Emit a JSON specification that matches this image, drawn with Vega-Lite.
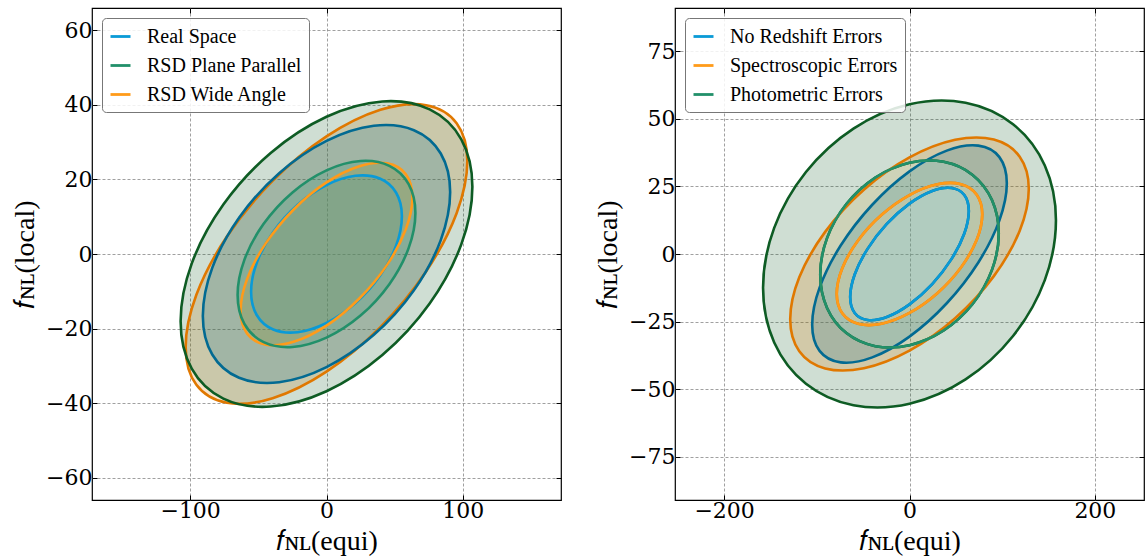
{
"$schema":"https://vega.github.io/schema/vega-lite/v6.json",
"padding":{"left":10,"top":6,"right":0,"bottom":0},
"spacing":30,
"config":{
"font":"Liberation Serif",
"view":{"stroke":"black","strokeWidth":1.2},
"axis":{"labelFont":"DejaVu Serif","labelFontSize":22,"labelColor":"black","titleFont":"Liberation Serif","titleFontSize":28,"titleFontWeight":"normal","titleColor":"black","domain":false,"tickColor":"black","tickSize":-5,"tickWidth":1,"grid":true,"gridColor":"#888","gridDash":[3,2],"gridWidth":0.8,"labelPadding":5,"titlePadding":6},
"legend":{"labelFont":"Liberation Serif","labelFontSize":20,"labelColor":"black","labelLimit":400,"symbolStrokeWidth":2.8,"symbolSize":400,"padding":7,"rowPadding":7,"cornerRadius":4,"strokeColor":"#777","fillColor":"rgba(255,255,255,0.85)","orient":"top-left","offset":10,"labelOffset":15}
},
"datasets":{
"left":[
{"c":"RSD Wide Angle 2σ","i":0,"equi":103.3,"local":24.92},{"c":"RSD Wide Angle 2σ","i":1,"equi":95.44,"local":35.1},{"c":"RSD Wide Angle 2σ","i":2,"equi":73.04,"local":39.93},{"c":"RSD Wide Angle 2σ","i":3,"equi":39.53,"local":38.68},{"c":"RSD Wide Angle 2σ","i":4,"equi":0,"local":31.54},{"c":"RSD Wide Angle 2σ","i":5,"equi":-39.53,"local":19.6},{"c":"RSD Wide Angle 2σ","i":6,"equi":-73.04,"local":4.68},{"c":"RSD Wide Angle 2σ","i":7,"equi":-95.44,"local":-10.95},
{"c":"RSD Wide Angle 2σ","i":8,"equi":-103.3,"local":-24.92},{"c":"RSD Wide Angle 2σ","i":9,"equi":-95.44,"local":-35.1},{"c":"RSD Wide Angle 2σ","i":10,"equi":-73.04,"local":-39.93},{"c":"RSD Wide Angle 2σ","i":11,"equi":-39.53,"local":-38.68},{"c":"RSD Wide Angle 2σ","i":12,"equi":0,"local":-31.54},{"c":"RSD Wide Angle 2σ","i":13,"equi":39.53,"local":-19.6},{"c":"RSD Wide Angle 2σ","i":14,"equi":73.04,"local":-4.68},{"c":"RSD Wide Angle 2σ","i":15,"equi":95.44,"local":10.95},
{"c":"RSD Plane Parallel 2σ","i":0,"equi":107,"local":18.04},{"c":"RSD Plane Parallel 2σ","i":1,"equi":98.86,"local":30.76},{"c":"RSD Plane Parallel 2σ","i":2,"equi":75.66,"local":38.79},{"c":"RSD Plane Parallel 2σ","i":3,"equi":40.95,"local":40.92},{"c":"RSD Plane Parallel 2σ","i":4,"equi":0,"local":36.82},{"c":"RSD Plane Parallel 2σ","i":5,"equi":-40.95,"local":27.11},{"c":"RSD Plane Parallel 2σ","i":6,"equi":-75.66,"local":13.28},{"c":"RSD Plane Parallel 2σ","i":7,"equi":-98.86,"local":-2.57},
{"c":"RSD Plane Parallel 2σ","i":8,"equi":-107,"local":-18.04},{"c":"RSD Plane Parallel 2σ","i":9,"equi":-98.86,"local":-30.76},{"c":"RSD Plane Parallel 2σ","i":10,"equi":-75.66,"local":-38.79},{"c":"RSD Plane Parallel 2σ","i":11,"equi":-40.95,"local":-40.92},{"c":"RSD Plane Parallel 2σ","i":12,"equi":0,"local":-36.82},{"c":"RSD Plane Parallel 2σ","i":13,"equi":40.95,"local":-27.11},{"c":"RSD Plane Parallel 2σ","i":14,"equi":75.66,"local":-13.28},{"c":"RSD Plane Parallel 2σ","i":15,"equi":98.86,"local":2.57},
{"c":"Real Space 2σ","i":0,"equi":90.7,"local":16.61},{"c":"Real Space 2σ","i":1,"equi":83.8,"local":26.96},{"c":"Real Space 2σ","i":2,"equi":64.13,"local":33.21},{"c":"Real Space 2σ","i":3,"equi":34.71,"local":34.4},{"c":"Real Space 2σ","i":4,"equi":0,"local":30.35},{"c":"Real Space 2σ","i":5,"equi":-34.71,"local":21.69},{"c":"Real Space 2σ","i":6,"equi":-64.13,"local":9.72},{"c":"Real Space 2σ","i":7,"equi":-83.8,"local":-3.73},
{"c":"Real Space 2σ","i":8,"equi":-90.7,"local":-16.61},{"c":"Real Space 2σ","i":9,"equi":-83.8,"local":-26.96},{"c":"Real Space 2σ","i":10,"equi":-64.13,"local":-33.21},{"c":"Real Space 2σ","i":11,"equi":-34.71,"local":-34.4},{"c":"Real Space 2σ","i":12,"equi":0,"local":-30.35},{"c":"Real Space 2σ","i":13,"equi":34.71,"local":-21.69},{"c":"Real Space 2σ","i":14,"equi":64.13,"local":-9.72},{"c":"Real Space 2σ","i":15,"equi":83.8,"local":3.73},
{"c":"Real Space","i":0,"equi":55.3,"local":10.13},{"c":"Real Space","i":1,"equi":51.09,"local":16.44},{"c":"Real Space","i":2,"equi":39.1,"local":20.25},{"c":"Real Space","i":3,"equi":21.16,"local":20.98},{"c":"Real Space","i":4,"equi":0,"local":18.51},{"c":"Real Space","i":5,"equi":-21.16,"local":13.23},{"c":"Real Space","i":6,"equi":-39.1,"local":5.93},{"c":"Real Space","i":7,"equi":-51.09,"local":-2.27},
{"c":"Real Space","i":8,"equi":-55.3,"local":-10.13},{"c":"Real Space","i":9,"equi":-51.09,"local":-16.44},{"c":"Real Space","i":10,"equi":-39.1,"local":-20.25},{"c":"Real Space","i":11,"equi":-21.16,"local":-20.98},{"c":"Real Space","i":12,"equi":0,"local":-18.51},{"c":"Real Space","i":13,"equi":21.16,"local":-13.23},{"c":"Real Space","i":14,"equi":39.1,"local":-5.93},{"c":"Real Space","i":15,"equi":51.09,"local":2.27},
{"c":"RSD Wide Angle","i":0,"equi":63,"local":15.19},{"c":"RSD Wide Angle","i":1,"equi":58.21,"local":21.39},{"c":"RSD Wide Angle","i":2,"equi":44.55,"local":24.33},{"c":"RSD Wide Angle","i":3,"equi":24.11,"local":23.57},{"c":"RSD Wide Angle","i":4,"equi":0,"local":19.22},{"c":"RSD Wide Angle","i":5,"equi":-24.11,"local":11.95},{"c":"RSD Wide Angle","i":6,"equi":-44.55,"local":2.85},{"c":"RSD Wide Angle","i":7,"equi":-58.21,"local":-6.68},
{"c":"RSD Wide Angle","i":8,"equi":-63,"local":-15.19},{"c":"RSD Wide Angle","i":9,"equi":-58.21,"local":-21.39},{"c":"RSD Wide Angle","i":10,"equi":-44.55,"local":-24.33},{"c":"RSD Wide Angle","i":11,"equi":-24.11,"local":-23.57},{"c":"RSD Wide Angle","i":12,"equi":0,"local":-19.22},{"c":"RSD Wide Angle","i":13,"equi":24.11,"local":-11.95},{"c":"RSD Wide Angle","i":14,"equi":44.55,"local":-2.85},{"c":"RSD Wide Angle","i":15,"equi":58.21,"local":6.68},
{"c":"RSD Plane Parallel","i":0,"equi":65.2,"local":11},{"c":"RSD Plane Parallel","i":1,"equi":60.24,"local":18.76},{"c":"RSD Plane Parallel","i":2,"equi":46.1,"local":23.65},{"c":"RSD Plane Parallel","i":3,"equi":24.95,"local":24.95},{"c":"RSD Plane Parallel","i":4,"equi":0,"local":22.45},{"c":"RSD Plane Parallel","i":5,"equi":-24.95,"local":16.53},{"c":"RSD Plane Parallel","i":6,"equi":-46.1,"local":8.1},{"c":"RSD Plane Parallel","i":7,"equi":-60.24,"local":-1.57},
{"c":"RSD Plane Parallel","i":8,"equi":-65.2,"local":-11},{"c":"RSD Plane Parallel","i":9,"equi":-60.24,"local":-18.76},{"c":"RSD Plane Parallel","i":10,"equi":-46.1,"local":-23.65},{"c":"RSD Plane Parallel","i":11,"equi":-24.95,"local":-24.95},{"c":"RSD Plane Parallel","i":12,"equi":0,"local":-22.45},{"c":"RSD Plane Parallel","i":13,"equi":24.95,"local":-16.53},{"c":"RSD Plane Parallel","i":14,"equi":46.1,"local":-8.1},{"c":"RSD Plane Parallel","i":15,"equi":60.24,"local":1.57}
],
"right":[
{"c":"Photometric Errors 2σ","i":0,"equi":158,"local":12.5},{"c":"Photometric Errors 2σ","i":1,"equi":145.98,"local":32.75},{"c":"Photometric Errors 2σ","i":2,"equi":111.72,"local":48.01},{"c":"Photometric Errors 2σ","i":3,"equi":60.47,"local":55.97},{"c":"Photometric Errors 2σ","i":4,"equi":0,"local":55.41},{"c":"Photometric Errors 2σ","i":5,"equi":-60.47,"local":46.41},{"c":"Photometric Errors 2σ","i":6,"equi":-111.72,"local":30.34},{"c":"Photometric Errors 2σ","i":7,"equi":-145.98,"local":9.66},
{"c":"Photometric Errors 2σ","i":8,"equi":-158,"local":-12.5},{"c":"Photometric Errors 2σ","i":9,"equi":-145.98,"local":-32.75},{"c":"Photometric Errors 2σ","i":10,"equi":-111.72,"local":-48.01},{"c":"Photometric Errors 2σ","i":11,"equi":-60.47,"local":-55.97},{"c":"Photometric Errors 2σ","i":12,"equi":0,"local":-55.41},{"c":"Photometric Errors 2σ","i":13,"equi":60.47,"local":-46.41},{"c":"Photometric Errors 2σ","i":14,"equi":111.72,"local":-30.34},{"c":"Photometric Errors 2σ","i":15,"equi":145.98,"local":-9.66},
{"c":"Photometric Errors 2σ","i":16,"equi":null,"local":null},
{"c":"Photometric Errors 2σ","i":17,"equi":88.97,"local":-5.88},{"c":"Photometric Errors 2σ","i":18,"equi":68.09,"local":-18.48},{"c":"Photometric Errors 2σ","i":19,"equi":36.85,"local":-28.27},{"c":"Photometric Errors 2σ","i":20,"equi":0,"local":-33.75},{"c":"Photometric Errors 2σ","i":21,"equi":-36.85,"local":-34.09},{"c":"Photometric Errors 2σ","i":22,"equi":-68.09,"local":-29.25},{"c":"Photometric Errors 2σ","i":23,"equi":-88.97,"local":-19.95},{"c":"Photometric Errors 2σ","i":24,"equi":-96.3,"local":-7.61},
{"c":"Photometric Errors 2σ","i":25,"equi":-88.97,"local":5.88},{"c":"Photometric Errors 2σ","i":26,"equi":-68.09,"local":18.48},{"c":"Photometric Errors 2σ","i":27,"equi":-36.85,"local":28.27},{"c":"Photometric Errors 2σ","i":28,"equi":0,"local":33.75},{"c":"Photometric Errors 2σ","i":29,"equi":36.85,"local":34.09},{"c":"Photometric Errors 2σ","i":30,"equi":68.09,"local":29.25},{"c":"Photometric Errors 2σ","i":31,"equi":88.97,"local":19.95},{"c":"Photometric Errors 2σ","i":32,"equi":96.3,"local":7.61},
{"c":"Spectroscopic Errors 2σ","i":0,"equi":128.7,"local":24.14},{"c":"Spectroscopic Errors 2σ","i":1,"equi":118.91,"local":35.97},{"c":"Spectroscopic Errors 2σ","i":2,"equi":91,"local":42.32},{"c":"Spectroscopic Errors 2σ","i":3,"equi":49.25,"local":42.23},{"c":"Spectroscopic Errors 2σ","i":4,"equi":0,"local":35.71},{"c":"Spectroscopic Errors 2σ","i":5,"equi":-49.25,"local":23.76},{"c":"Spectroscopic Errors 2σ","i":6,"equi":-91,"local":8.18},{"c":"Spectroscopic Errors 2σ","i":7,"equi":-118.91,"local":-8.63},
{"c":"Spectroscopic Errors 2σ","i":8,"equi":-128.7,"local":-24.14},{"c":"Spectroscopic Errors 2σ","i":9,"equi":-118.91,"local":-35.97},{"c":"Spectroscopic Errors 2σ","i":10,"equi":-91,"local":-42.32},{"c":"Spectroscopic Errors 2σ","i":11,"equi":-49.25,"local":-42.23},{"c":"Spectroscopic Errors 2σ","i":12,"equi":0,"local":-35.71},{"c":"Spectroscopic Errors 2σ","i":13,"equi":49.25,"local":-23.76},{"c":"Spectroscopic Errors 2σ","i":14,"equi":91,"local":-8.18},{"c":"Spectroscopic Errors 2σ","i":15,"equi":118.91,"local":8.63},
{"c":"Spectroscopic Errors 2σ","i":16,"equi":null,"local":null},
{"c":"Spectroscopic Errors 2σ","i":17,"equi":72.53,"local":5.27},{"c":"Spectroscopic Errors 2σ","i":18,"equi":55.51,"local":-4.99},{"c":"Spectroscopic Errors 2σ","i":19,"equi":30.04,"local":-14.5},{"c":"Spectroscopic Errors 2σ","i":20,"equi":0,"local":-21.79},{"c":"Spectroscopic Errors 2σ","i":21,"equi":-30.04,"local":-25.77},{"c":"Spectroscopic Errors 2σ","i":22,"equi":-55.51,"local":-25.82},{"c":"Spectroscopic Errors 2σ","i":23,"equi":-72.53,"local":-21.95},{"c":"Spectroscopic Errors 2σ","i":24,"equi":-78.5,"local":-14.73},
{"c":"Spectroscopic Errors 2σ","i":25,"equi":-72.53,"local":-5.27},{"c":"Spectroscopic Errors 2σ","i":26,"equi":-55.51,"local":4.99},{"c":"Spectroscopic Errors 2σ","i":27,"equi":-30.04,"local":14.5},{"c":"Spectroscopic Errors 2σ","i":28,"equi":0,"local":21.79},{"c":"Spectroscopic Errors 2σ","i":29,"equi":30.04,"local":25.77},{"c":"Spectroscopic Errors 2σ","i":30,"equi":55.51,"local":25.82},{"c":"Spectroscopic Errors 2σ","i":31,"equi":72.53,"local":21.95},{"c":"Spectroscopic Errors 2σ","i":32,"equi":78.5,"local":14.73},
{"c":"No Redshift Errors 2σ","i":0,"equi":105,"local":26.13},{"c":"No Redshift Errors 2σ","i":1,"equi":97.01,"local":35.83},{"c":"No Redshift Errors 2σ","i":2,"equi":74.25,"local":40.08},{"c":"No Redshift Errors 2σ","i":3,"equi":40.18,"local":38.23},{"c":"No Redshift Errors 2σ","i":4,"equi":0,"local":30.55},{"c":"No Redshift Errors 2σ","i":5,"equi":-40.18,"local":18.22},{"c":"No Redshift Errors 2σ","i":6,"equi":-74.25,"local":3.12},{"c":"No Redshift Errors 2σ","i":7,"equi":-97.01,"local":-12.45},
{"c":"No Redshift Errors 2σ","i":8,"equi":-105,"local":-26.13},{"c":"No Redshift Errors 2σ","i":9,"equi":-97.01,"local":-35.83},{"c":"No Redshift Errors 2σ","i":10,"equi":-74.25,"local":-40.08},{"c":"No Redshift Errors 2σ","i":11,"equi":-40.18,"local":-38.23},{"c":"No Redshift Errors 2σ","i":12,"equi":0,"local":-30.55},{"c":"No Redshift Errors 2σ","i":13,"equi":40.18,"local":-18.22},{"c":"No Redshift Errors 2σ","i":14,"equi":74.25,"local":-3.12},{"c":"No Redshift Errors 2σ","i":15,"equi":97.01,"local":12.45},
{"c":"No Redshift Errors 2σ","i":16,"equi":null,"local":null},
{"c":"No Redshift Errors 2σ","i":17,"equi":59.13,"local":7.59},{"c":"No Redshift Errors 2σ","i":18,"equi":45.25,"local":-1.9},{"c":"No Redshift Errors 2σ","i":19,"equi":24.49,"local":-11.11},{"c":"No Redshift Errors 2σ","i":20,"equi":0,"local":-18.62},{"c":"No Redshift Errors 2σ","i":21,"equi":-24.49,"local":-23.3},{"c":"No Redshift Errors 2σ","i":22,"equi":-45.25,"local":-24.42},{"c":"No Redshift Errors 2σ","i":23,"equi":-59.13,"local":-21.84},{"c":"No Redshift Errors 2σ","i":24,"equi":-64,"local":-15.93},
{"c":"No Redshift Errors 2σ","i":25,"equi":-59.13,"local":-7.59},{"c":"No Redshift Errors 2σ","i":26,"equi":-45.25,"local":1.9},{"c":"No Redshift Errors 2σ","i":27,"equi":-24.49,"local":11.11},{"c":"No Redshift Errors 2σ","i":28,"equi":0,"local":18.62},{"c":"No Redshift Errors 2σ","i":29,"equi":24.49,"local":23.3},{"c":"No Redshift Errors 2σ","i":30,"equi":45.25,"local":24.42},{"c":"No Redshift Errors 2σ","i":31,"equi":59.13,"local":21.84},{"c":"No Redshift Errors 2σ","i":32,"equi":64,"local":15.93},
{"c":"Photometric Errors","i":0,"equi":96.3,"local":7.61},{"c":"Photometric Errors","i":1,"equi":88.97,"local":19.95},{"c":"Photometric Errors","i":2,"equi":68.09,"local":29.25},{"c":"Photometric Errors","i":3,"equi":36.85,"local":34.09},{"c":"Photometric Errors","i":4,"equi":0,"local":33.75},{"c":"Photometric Errors","i":5,"equi":-36.85,"local":28.27},{"c":"Photometric Errors","i":6,"equi":-68.09,"local":18.48},{"c":"Photometric Errors","i":7,"equi":-88.97,"local":5.88},
{"c":"Photometric Errors","i":8,"equi":-96.3,"local":-7.61},{"c":"Photometric Errors","i":9,"equi":-88.97,"local":-19.95},{"c":"Photometric Errors","i":10,"equi":-68.09,"local":-29.25},{"c":"Photometric Errors","i":11,"equi":-36.85,"local":-34.09},{"c":"Photometric Errors","i":12,"equi":0,"local":-33.75},{"c":"Photometric Errors","i":13,"equi":36.85,"local":-28.27},{"c":"Photometric Errors","i":14,"equi":68.09,"local":-18.48},{"c":"Photometric Errors","i":15,"equi":88.97,"local":-5.88},
{"c":"Spectroscopic Errors","i":0,"equi":78.5,"local":14.73},{"c":"Spectroscopic Errors","i":1,"equi":72.53,"local":21.95},{"c":"Spectroscopic Errors","i":2,"equi":55.51,"local":25.82},{"c":"Spectroscopic Errors","i":3,"equi":30.04,"local":25.77},{"c":"Spectroscopic Errors","i":4,"equi":0,"local":21.79},{"c":"Spectroscopic Errors","i":5,"equi":-30.04,"local":14.5},{"c":"Spectroscopic Errors","i":6,"equi":-55.51,"local":4.99},{"c":"Spectroscopic Errors","i":7,"equi":-72.53,"local":-5.27},
{"c":"Spectroscopic Errors","i":8,"equi":-78.5,"local":-14.73},{"c":"Spectroscopic Errors","i":9,"equi":-72.53,"local":-21.95},{"c":"Spectroscopic Errors","i":10,"equi":-55.51,"local":-25.82},{"c":"Spectroscopic Errors","i":11,"equi":-30.04,"local":-25.77},{"c":"Spectroscopic Errors","i":12,"equi":0,"local":-21.79},{"c":"Spectroscopic Errors","i":13,"equi":30.04,"local":-14.5},{"c":"Spectroscopic Errors","i":14,"equi":55.51,"local":-4.99},{"c":"Spectroscopic Errors","i":15,"equi":72.53,"local":5.27},
{"c":"No Redshift Errors","i":0,"equi":64,"local":15.93},{"c":"No Redshift Errors","i":1,"equi":59.13,"local":21.84},{"c":"No Redshift Errors","i":2,"equi":45.25,"local":24.42},{"c":"No Redshift Errors","i":3,"equi":24.49,"local":23.3},{"c":"No Redshift Errors","i":4,"equi":0,"local":18.62},{"c":"No Redshift Errors","i":5,"equi":-24.49,"local":11.11},{"c":"No Redshift Errors","i":6,"equi":-45.25,"local":1.9},{"c":"No Redshift Errors","i":7,"equi":-59.13,"local":-7.59},
{"c":"No Redshift Errors","i":8,"equi":-64,"local":-15.93},{"c":"No Redshift Errors","i":9,"equi":-59.13,"local":-21.84},{"c":"No Redshift Errors","i":10,"equi":-45.25,"local":-24.42},{"c":"No Redshift Errors","i":11,"equi":-24.49,"local":-23.3},{"c":"No Redshift Errors","i":12,"equi":0,"local":-18.62},{"c":"No Redshift Errors","i":13,"equi":24.49,"local":-11.11},{"c":"No Redshift Errors","i":14,"equi":45.25,"local":-1.9},{"c":"No Redshift Errors","i":15,"equi":59.13,"local":7.59}
]
},
"hconcat":[
{"width":469,"height":492,"data":{"name":"left"},
"resolve":{"axis":{"x":"independent","y":"independent"}},
"layer":[
{"mark":{"type":"line","interpolate":"cardinal-closed","strokeWidth":0,"strokeOpacity":0,"fillOpacity":0.2},
"encoding":{
"x":{"field":"equi","type":"quantitative","scale":{"domain":[-172,172],"nice":false,"zero":false},"axis":{"values":[-100,0,100],"title":"𝑓ɴʟ(equi)"}},
"y":{"field":"local","type":"quantitative","scale":{"domain":[-66,66],"nice":false,"zero":false},"axis":{"values":[-60,-40,-20,0,20,40,60],"title":"𝑓ɴʟ(local)"}},
"order":{"field":"i","type":"quantitative"},
"fill":{"field":"c","type":"nominal","scale":{"domain":["Real Space","Real Space 2σ","RSD Plane Parallel","RSD Plane Parallel 2σ","RSD Wide Angle","RSD Wide Angle 2σ"],"range":["#0A9AD6","#026A92","#22906A","#0E5C24","#FF9B1A","#E07800"]},"legend":{"title":null,"values":["Real Space","RSD Plane Parallel","RSD Wide Angle"]}}
}},
{"mark":{"type":"line","interpolate":"cardinal-closed","strokeWidth":2.6},
"encoding":{
"x":{"field":"equi","type":"quantitative","axis":null},
"y":{"field":"local","type":"quantitative","axis":null},
"order":{"field":"i","type":"quantitative"},
"stroke":{"field":"c","type":"nominal","scale":{"domain":["Real Space","Real Space 2σ","RSD Plane Parallel","RSD Plane Parallel 2σ","RSD Wide Angle","RSD Wide Angle 2σ"],"range":["#0A9AD6","#026A92","#22906A","#0E5C24","#FF9B1A","#E07800"]},"legend":{"title":null,"values":["Real Space","RSD Plane Parallel","RSD Wide Angle"]}}
}},
{"mark":{"type":"point","opacity":0},
"encoding":{
"x":{"field":"equi","type":"quantitative","axis":{"orient":"top","values":[-100,0,100],"labels":false,"title":null,"grid":false}},
"y":{"field":"local","type":"quantitative","axis":{"orient":"right","values":[-60,-40,-20,0,20,40,60],"labels":false,"title":null,"grid":false}}
}}
]},
{"width":469,"height":492,"data":{"name":"right"},
"resolve":{"axis":{"x":"independent","y":"independent"}},
"layer":[
{"mark":{"type":"line","interpolate":"cardinal-closed","strokeWidth":0,"strokeOpacity":0,"fillOpacity":0.2,"invalid":"break-paths-show-domains"},
"encoding":{
"x":{"field":"equi","type":"quantitative","scale":{"domain":[-253,253],"nice":false,"zero":false},"axis":{"values":[-200,0,200],"title":"𝑓ɴʟ(equi)"}},
"y":{"field":"local","type":"quantitative","scale":{"domain":[-91,91],"nice":false,"zero":false},"axis":{"values":[-75,-50,-25,0,25,50,75],"title":"𝑓ɴʟ(local)"}},
"order":{"field":"i","type":"quantitative"},
"fill":{"field":"c","type":"nominal","scale":{"domain":["No Redshift Errors","No Redshift Errors 2σ","Spectroscopic Errors","Spectroscopic Errors 2σ","Photometric Errors","Photometric Errors 2σ"],"range":["#0A9AD6","#026A92","#FF9B1A","#E07800","#22906A","#0E5C24"]},"legend":{"title":null,"values":["No Redshift Errors","Spectroscopic Errors","Photometric Errors"]}}
}},
{"mark":{"type":"line","interpolate":"cardinal-closed","strokeWidth":2.6,"invalid":"break-paths-show-domains"},
"encoding":{
"x":{"field":"equi","type":"quantitative","axis":null},
"y":{"field":"local","type":"quantitative","axis":null},
"order":{"field":"i","type":"quantitative"},
"stroke":{"field":"c","type":"nominal","scale":{"domain":["No Redshift Errors","No Redshift Errors 2σ","Spectroscopic Errors","Spectroscopic Errors 2σ","Photometric Errors","Photometric Errors 2σ"],"range":["#0A9AD6","#026A92","#FF9B1A","#E07800","#22906A","#0E5C24"]},"legend":{"title":null,"values":["No Redshift Errors","Spectroscopic Errors","Photometric Errors"]}}
}},
{"mark":{"type":"point","opacity":0},
"encoding":{
"x":{"field":"equi","type":"quantitative","axis":{"orient":"top","values":[-200,0,200],"labels":false,"title":null,"grid":false}},
"y":{"field":"local","type":"quantitative","axis":{"orient":"right","values":[-75,-50,-25,0,25,50,75],"labels":false,"title":null,"grid":false}}
}}
]}
],
"resolve":{"scale":{"stroke":"independent","fill":"independent","x":"independent","y":"independent"},"legend":{"stroke":"independent","fill":"independent"}}
}
